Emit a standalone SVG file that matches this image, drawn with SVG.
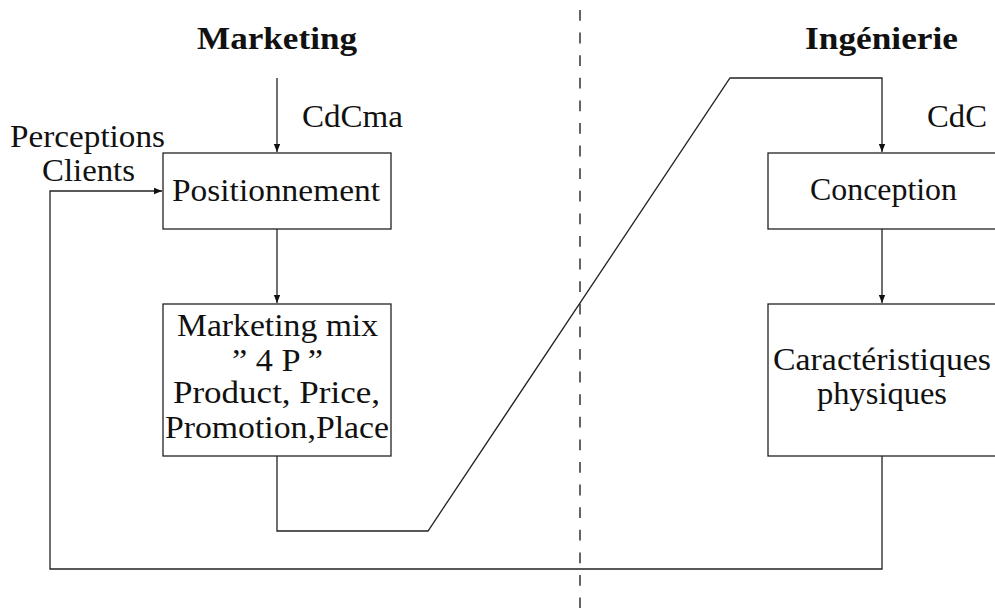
<svg xmlns="http://www.w3.org/2000/svg" width="995" height="608" viewBox="0 0 995 608">
<defs>
<marker id="arr" viewBox="0 0 10 10" refX="10" refY="5" markerWidth="8" markerHeight="8" markerUnits="userSpaceOnUse" orient="auto">
<path d="M0,1 L10,5 L0,9 Z" fill="#111"/>
</marker>
<style>
text{font-family:"Liberation Serif","DejaVu Serif",serif;font-size:31px;fill:#111}
.b{font-weight:bold}
.box{fill:#fff;stroke:#222;stroke-width:1.3}
.ln{fill:none;stroke:#222;stroke-width:1.3}
.dash{fill:none;stroke:#111;stroke-width:1.3;stroke-dasharray:10.8 11.8}
</style>
</defs>
<rect width="995" height="608" fill="#fff"/>
<line class="dash" x1="580" y1="10" x2="580" y2="608"/>
<g id="labels">
<text class="b" x="197" y="49" textLength="160" lengthAdjust="spacingAndGlyphs">Marketing</text>
<text class="b" x="805" y="49" textLength="153" lengthAdjust="spacingAndGlyphs">Ingénierie</text>
<text x="302" y="127" textLength="101" lengthAdjust="spacingAndGlyphs">CdCma</text>
<text x="927" y="127" textLength="60" lengthAdjust="spacingAndGlyphs">CdC</text>
<text x="10" y="147" textLength="155" lengthAdjust="spacingAndGlyphs">Perceptions</text>
<text x="42" y="181" textLength="93" lengthAdjust="spacingAndGlyphs">Clients</text>
</g>
<g id="connectors">
<line class="ln" x1="277" y1="78" x2="277" y2="152" marker-end="url(#arr)"/>
<line class="ln" x1="277" y1="229" x2="277" y2="303" marker-end="url(#arr)"/>
<polyline class="ln" points="277,456 277,531 428,531 730,78 882,78 882,152" marker-end="url(#arr)"/>
<line class="ln" x1="882" y1="229" x2="882" y2="303" marker-end="url(#arr)"/>
<polyline class="ln" points="882,456 882,569 50,569 50,191 162,191" marker-end="url(#arr)"/>
</g>
<g id="positionnement">
<rect class="box" x="163" y="153" width="228" height="76"/>
<text x="172" y="201" textLength="208" lengthAdjust="spacingAndGlyphs">Positionnement</text>
</g>
<g id="marketing-mix">
<rect class="box" x="163" y="304" width="228" height="152"/>
<text x="177" y="336" textLength="201" lengthAdjust="spacingAndGlyphs">Marketing mix</text>
<text x="232" y="371" textLength="91" lengthAdjust="spacingAndGlyphs">” 4 P ”</text>
<text x="173" y="403" textLength="207" lengthAdjust="spacingAndGlyphs">Product, Price,</text>
<text x="165" y="438" textLength="224" lengthAdjust="spacingAndGlyphs">Promotion,Place</text>
</g>
<g id="conception">
<rect class="box" x="768" y="153" width="228" height="76"/>
<text x="810" y="200" textLength="147" lengthAdjust="spacingAndGlyphs">Conception</text>
</g>
<g id="caracteristiques">
<rect class="box" x="768" y="304" width="228" height="152"/>
<text x="773" y="370" textLength="218" lengthAdjust="spacingAndGlyphs">Caractéristiques</text>
<text x="817" y="404" textLength="130" lengthAdjust="spacingAndGlyphs">physiques</text>
</g>
</svg>
